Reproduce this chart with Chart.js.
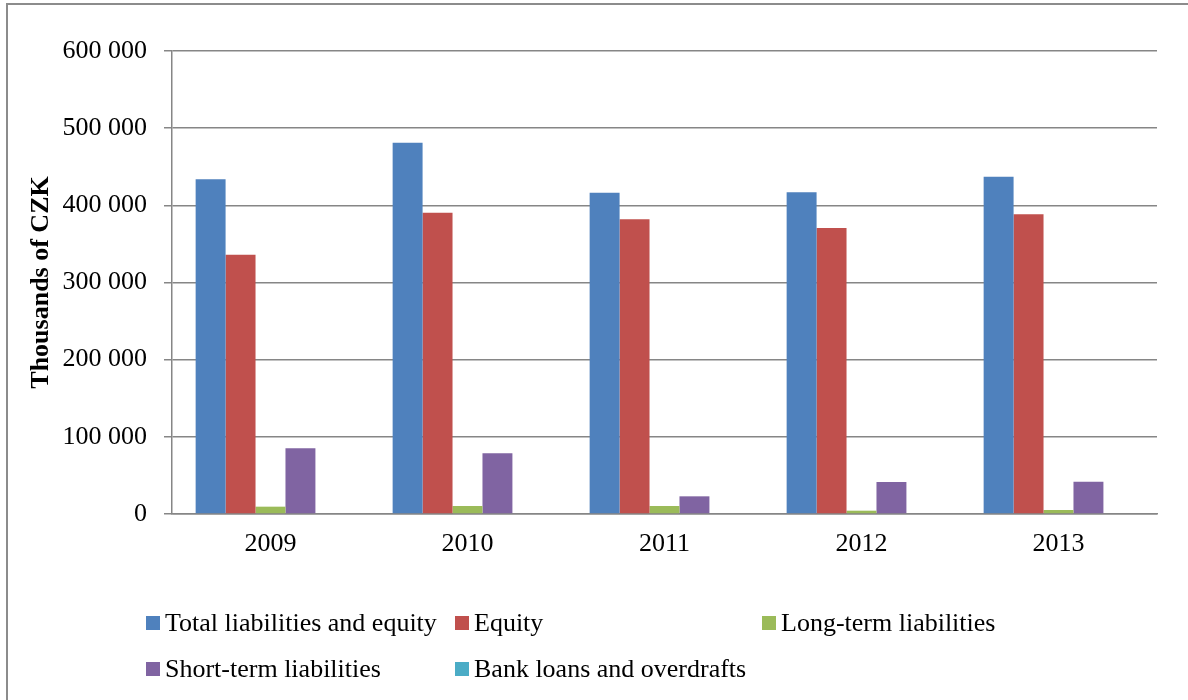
<!DOCTYPE html>
<html>
<head>
<meta charset="utf-8">
<script src="https://cdn.jsdelivr.net/npm/chart.js@4.4.1/dist/chart.umd.min.js"></script>
<style>
  body { margin: 0; background: #fff; }
  #wrap { position: relative; width: 1188px; height: 700px; overflow: hidden; background: #fff; }
  #frame { position: absolute; left: 6px; top: 3px; width: 1200px; height: 720px; border: 2px solid #8c8c8c; box-sizing: border-box; }
  #chart { position: absolute; left: 0; top: 0; }
  #legend {
    position: absolute; left: 146px; top: 610px;
    display: grid; grid-template-columns: 309px 307px auto; grid-auto-rows: 26px; row-gap: 20px;
    font-family: "Liberation Serif", "Times New Roman", serif; font-size: 26px; color: #000;
  }
  .item { display: flex; align-items: center; white-space: nowrap; }
  .box { width: 14px; height: 14px; margin-right: 5px; flex: none; }
</style>
</head>
<body>
<div id="wrap">
  <div id="frame"></div>
  <canvas id="chart" width="1188" height="700"></canvas>
  <div id="legend"></div>
</div>
<script>
// values, thousands of CZK
const years = ['2009', '2010', '2011', '2012', '2013']
const totalLiabilities = [433700, 481200, 416400, 416800, 437100]
const equity = [336000, 390500, 381900, 370600, 388400]
const longTerm = [9500, 10400, 10400, 4300, 5200]
const shortTerm = [85100, 78600, 22900, 41500, 41900]
const bankLoans = [0, 0, 0, 0, 0]

const seriesNames = [
  'Total liabilities and equity',
  'Equity',
  'Long-term liabilities',
  'Short-term liabilities',
  'Bank loans and overdrafts',
]
const seriesColors = ['#4F81BD', '#C0504D', '#9BBB59', '#8064A2', '#4BACC6']

const yMin = 0
const yMax = 600000
const yStep = 100000

const serif = '"Liberation Serif", "Times New Roman", serif'
const gridColor = '#868686'

function spaced(v) {
  return String(v).replace(/\B(?=(\d{3})+(?!\d))/g, ' ')
}

const seriesData = [totalLiabilities, equity, longTerm, shortTerm, bankLoans]

const ctx = document.getElementById('chart').getContext('2d')
const chart = new Chart(ctx, {
  type: 'bar',
  data: {
    labels: years,
    datasets: seriesData.map(function (vals, i) {
      return {
        label: seriesNames[i],
        data: vals,
        backgroundColor: seriesColors[i],
        borderWidth: 0,
        barPercentage: 1,
        categoryPercentage: 0.76,
      }
    }),
  },
  options: {
    responsive: false,
    animation: false,
    layout: { padding: { top: 51, left: 26, right: 31, bottom: 126 } },
    scales: {
      x: {
        afterFit: function (scale) { scale.height = 60 },
        grid: { display: false, drawTicks: false },
        border: { display: true, color: gridColor, width: 1.5 },
        ticks: { color: '#000', padding: 15, font: { family: serif, size: 26 } },
      },
      y: {
        min: yMin,
        max: yMax,
        afterFit: function (scale) { scale.width = 146 },
        grid: { color: gridColor, lineWidth: 1.5, tickLength: 8, drawTicks: true },
        border: { display: true, color: gridColor, width: 1.5 },
        ticks: {
          stepSize: yStep,
          color: '#000',
          padding: 17,
          font: { family: serif, size: 26 },
          callback: function (v) { return spaced(v) },
        },
        title: {
          display: true,
          text: 'Thousands of CZK',
          color: '#000',
          padding: 0,
          font: { family: serif, size: 26, weight: 'bold' },
        },
      },
    },
    plugins: {
      legend: { display: false },
      tooltip: { enabled: false },
    },
  },
})

// legend laid out in the same grid as the original
const legendEl = document.getElementById('legend')
chart.data.datasets.forEach(function (ds) {
  const item = document.createElement('div')
  item.className = 'item'
  const box = document.createElement('span')
  box.className = 'box'
  box.style.background = ds.backgroundColor
  const txt = document.createElement('span')
  txt.textContent = ds.label
  item.appendChild(box)
  item.appendChild(txt)
  legendEl.appendChild(item)
})
</script>
</body>
</html>
